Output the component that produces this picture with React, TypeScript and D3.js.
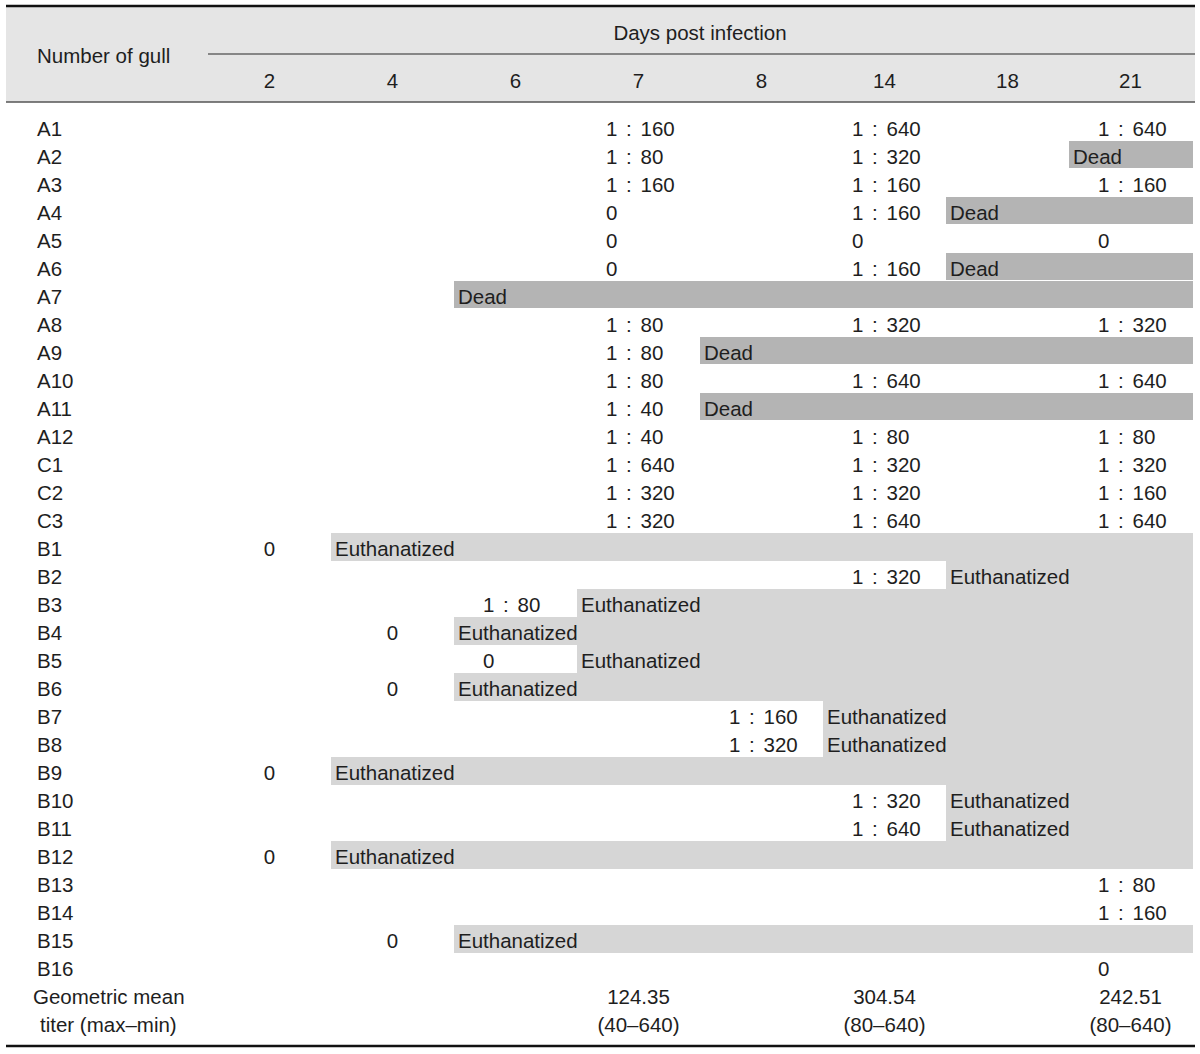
import React from "react";
import * as d3 from "d3";

const days = [2, 4, 6, 7, 8, 14, 18, 21];
const gulls = [
  "A1","A2","A3","A4","A5","A6","A7","A8","A9","A10","A11","A12",
  "C1","C2","C3",
  "B1","B2","B3","B4","B5","B6","B7","B8","B9","B10","B11","B12","B13","B14","B15","B16",
];
// titers per day column: 2,4,6,7,8,14,18,21
const titers: string[][] = [
  ["", "", "", "1 : 160", "", "1 : 640", "", "1 : 640"],
  ["", "", "", "1 : 80", "", "1 : 320", "", ""],
  ["", "", "", "1 : 160", "", "1 : 160", "", "1 : 160"],
  ["", "", "", "0", "", "1 : 160", "", ""],
  ["", "", "", "0", "", "0", "", "0"],
  ["", "", "", "0", "", "1 : 160", "", ""],
  ["", "", "", "", "", "", "", ""],
  ["", "", "", "1 : 80", "", "1 : 320", "", "1 : 320"],
  ["", "", "", "1 : 80", "", "", "", ""],
  ["", "", "", "1 : 80", "", "1 : 640", "", "1 : 640"],
  ["", "", "", "1 : 40", "", "", "", ""],
  ["", "", "", "1 : 40", "", "1 : 80", "", "1 : 80"],
  ["", "", "", "1 : 640", "", "1 : 320", "", "1 : 320"],
  ["", "", "", "1 : 320", "", "1 : 320", "", "1 : 160"],
  ["", "", "", "1 : 320", "", "1 : 640", "", "1 : 640"],
  ["0", "", "", "", "", "", "", ""],
  ["", "", "", "", "", "1 : 320", "", ""],
  ["", "", "1 : 80", "", "", "", "", ""],
  ["", "0", "", "", "", "", "", ""],
  ["", "", "0", "", "", "", "", ""],
  ["", "0", "", "", "", "", "", ""],
  ["", "", "", "", "1 : 160", "", "", ""],
  ["", "", "", "", "1 : 320", "", "", ""],
  ["0", "", "", "", "", "", "", ""],
  ["", "", "", "", "", "1 : 320", "", ""],
  ["", "", "", "", "", "1 : 640", "", ""],
  ["0", "", "", "", "", "", "", ""],
  ["", "", "", "", "", "", "", "1 : 80"],
  ["", "", "", "", "", "", "", "1 : 160"],
  ["", "0", "", "", "", "", "", ""],
  ["", "", "", "", "", "", "", "0"],
];
// outcome per gull and the day it starts
const outcomeStatus = [
  "", "Dead", "", "Dead", "", "Dead", "Dead", "", "Dead", "", "Dead", "",
  "", "", "",
  "Euthanatized", "Euthanatized", "Euthanatized", "Euthanatized", "Euthanatized",
  "Euthanatized", "Euthanatized", "Euthanatized", "Euthanatized", "Euthanatized",
  "Euthanatized", "Euthanatized", "", "", "Euthanatized", "",
];
const outcomeDay = [
  0, 21, 0, 18, 0, 18, 6, 0, 8, 0, 8, 0,
  0, 0, 0,
  4, 18, 7, 6, 7, 6, 14, 14, 4, 18, 18, 4, 0, 0, 6, 0,
];
const gmDays = [7, 14, 21];
const gmValues = ["124.35", "304.54", "242.51"];
const gmRanges = ["(40–640)", "(80–640)", "(80–640)"];

const W = 1200;
const H = 1054;
const FONT = "'Liberation Sans', Arial, sans-serif";
const FS = 20.5;
const TXT = "#1e1e1e";

export default function App() {
  const x = d3.scaleBand<number>().domain(days).range([208, 1192]).padding(0);
  const rowY = d3.scaleLinear().domain([0, 1]).range([128, 156]);
  const bw = x.bandwidth();
  const right = 1193;
  const centered = new Set([2, 4]);

  return (
    <svg
      width={W}
      height={H}
      style={{ position: "absolute", left: 0, top: 0, background: "#fff" }}
      fontFamily={FONT}
      fontSize={FS}
    >
      <rect x={6} y={7} width={1189} height={95} fill="#e5e5e5" />
      <line x1={6} x2={1195} y1={6} y2={6} stroke="#111" strokeWidth={2.5} />
      <line x1={208} x2={1195} y1={54} y2={54} stroke="#666" strokeWidth={1.5} />
      <line x1={6} x2={1195} y1={102} y2={102} stroke="#555" strokeWidth={1.5} />
      <text x={37} y={55} dominantBaseline="central" fill={TXT}>
        Number of gull
      </text>
      <text x={700} y={32} textAnchor="middle" dominantBaseline="central" fill={TXT}>
        Days post infection
      </text>
      {days.map((d) => (
        <text
          key={d}
          x={(x(d) as number) + bw / 2}
          y={80}
          textAnchor="middle"
          dominantBaseline="central"
          fill={TXT}
        >
          {d}
        </text>
      ))}

      {gulls.map((g, i) => {
        const st = outcomeStatus[i];
        if (!st) return null;
        const x0 = x(outcomeDay[i]) as number;
        const cy = rowY(i);
        const dead = st === "Dead";
        return (
          <g key={"b" + g}>
            <rect
              x={x0}
              y={cy - 15}
              width={right - x0}
              height={dead ? 27 : 28}
              fill={dead ? "#b4b4b4" : "#d6d6d6"}
            />
            <text x={x0 + 4} y={cy} dominantBaseline="central" fill={TXT}>
              {st}
            </text>
          </g>
        );
      })}

      {gulls.map((g, i) => {
        const cy = rowY(i);
        return (
          <g key={g}>
            <text x={37} y={cy} dominantBaseline="central" fill={TXT}>
              {g}
            </text>
            {titers[i].map((t, j) => {
              if (!t) return null;
              const d = days[j];
              const c = centered.has(d);
              return (
                <text
                  key={j}
                  x={c ? (x(d) as number) + bw / 2 : (x(d) as number) + 29}
                  y={cy}
                  textAnchor={c ? "middle" : "start"}
                  dominantBaseline="central"
                  fill={TXT}
                  style={{ wordSpacing: "3px" }}
                >
                  {t}
                </text>
              );
            })}
          </g>
        );
      })}

      <text x={33} y={rowY(gulls.length)} dominantBaseline="central" fill={TXT}>
        Geometric mean
      </text>
      <text x={40} y={rowY(gulls.length + 1)} dominantBaseline="central" fill={TXT}>
        titer (max–min)
      </text>
      {gmDays.map((d, k) => (
        <g key={"gm" + d}>
          <text
            x={(x(d) as number) + bw / 2}
            y={rowY(gulls.length)}
            textAnchor="middle"
            dominantBaseline="central"
            fill={TXT}
          >
            {gmValues[k]}
          </text>
          <text
            x={(x(d) as number) + bw / 2}
            y={rowY(gulls.length + 1)}
            textAnchor="middle"
            dominantBaseline="central"
            fill={TXT}
          >
            {gmRanges[k]}
          </text>
        </g>
      ))}
      <line x1={6} x2={1195} y1={1046} y2={1046} stroke="#111" strokeWidth={2.5} />
    </svg>
  );
}
